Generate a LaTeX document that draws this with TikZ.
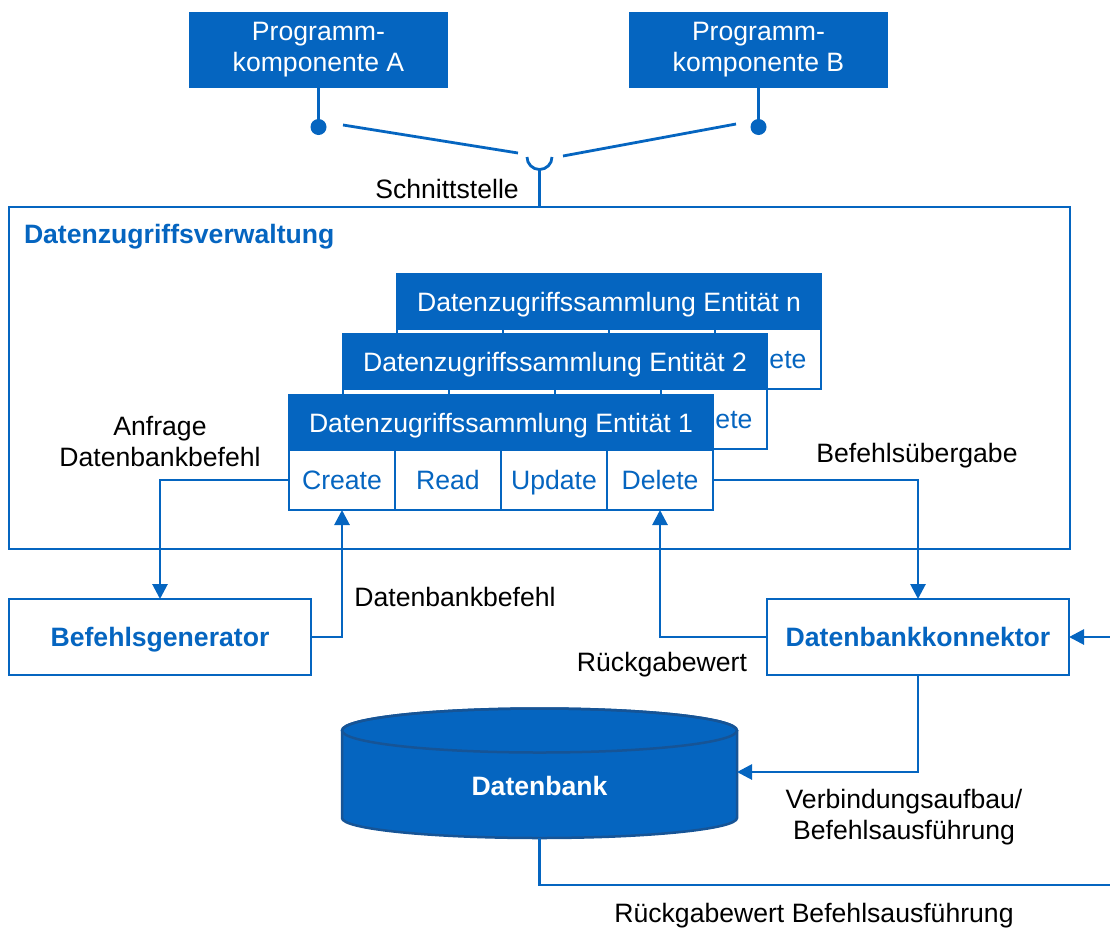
\documentclass[tikz,border=0pt]{standalone}
\usepackage{fontspec}
\setmainfont{Liberation Sans}
\usetikzlibrary{arrows.meta}
\definecolor{blu}{RGB}{5,101,192}
\definecolor{dblu}{RGB}{22,84,150}
\newcommand{\fs}{\fontsize{26.6}{31}\selectfont}
\begin{document}
\begin{tikzpicture}[x=1pt,y=-1pt,
  every node/.style={font=\fs, inner sep=0pt, outer sep=0pt},
  hdr/.style={draw=blu, fill=blu, text=white, line width=2pt, minimum width=424pt, minimum height=55pt, anchor=north west, text height=19pt, text depth=0pt},
  cell/.style={draw=blu, fill=white, text=blu, line width=2.8pt, minimum width=106pt, minimum height=60pt, anchor=north west, text height=19pt, text depth=0pt},
  bbox/.style={draw=blu, fill=white, text=blu, line width=2.8pt, font=\fs\bfseries, minimum width=302pt, minimum height=76pt, anchor=north west, text height=19pt, text depth=0pt},
  prog/.style={fill=blu, text=white, minimum width=259pt, minimum height=76pt, align=center, anchor=north west},
  dot/.style={circle, fill=blu, minimum size=16pt},
  conn/.style={draw=blu, line width=2.8pt},
  arr/.style={conn, -{Triangle[length=15pt,width=15pt]}},
  lbl/.style={text=black, align=center}
]
\useasboundingbox (0,0) rectangle (1110,932);

% program components
\node[prog] (pa) at (189,12) {Programm-\\komponente A};
\node[prog] (pb) at (629,12) {Programm-\\komponente B};
\node[dot] (dotA) at (318.5,127) {};
\node[dot] (dotB) at (758.5,127) {};
\draw[conn] (pa.south) -- (dotA.center);
\draw[conn] (pb.south) -- (dotB.center);

% main box
\node[draw=blu, line width=2.8pt, minimum width=1061pt, minimum height=342pt, anchor=north west] (dzv) at (9,207) {};
\node[text=blu, font=\fs\bfseries, anchor=west] (dzvl) at (24,237) {Datenzugriffsverwaltung};

% interface (socket)
\coordinate (la1) at (343,125);
\coordinate (la2) at (518,153);
\coordinate (lb1) at (736,124);
\coordinate (lb2) at (563,156);
\coordinate (sockL) at (527,157);
\coordinate (sockB) at (539.5,169.5);
\draw[conn] (la1) -- (la2);
\draw[conn] (lb1) -- (lb2);
\draw[conn] (sockL) arc[start angle=180, end angle=0, radius=12.5];
\draw[conn] (sockB) -- (dzv.north);
\node[lbl] (schn) at (447,189) {Schnittstelle};

% entity n
\node[hdr] (hn) at (397,274) {Datenzugriffssammlung Entität n};
\node[cell] (nC) at (hn.south west) {};
\node[cell] (nR) at (nC.north east) {};
\node[cell] (nU) at (nR.north east) {};
\node[cell] (nD) at (nU.north east) {Delete};
% entity 2
\node[hdr] (h2) at (343,334) {Datenzugriffssammlung Entität 2};
\node[cell] (tC) at (h2.south west) {};
\node[cell] (tR) at (tC.north east) {};
\node[cell] (tU) at (tR.north east) {};
\node[cell] (tD) at (tU.north east) {Delete};
% entity 1
\node[hdr] (h1) at (289,395) {Datenzugriffssammlung Entität 1};
\node[cell] (oC) at (h1.south west) {Create};
\node[cell] (oR) at (oC.north east) {Read};
\node[cell] (oU) at (oR.north east) {Update};
\node[cell] (oD) at (oU.north east) {Delete};

% lower boxes
\node[bbox] (bg) at (9,599) {Befehlsgenerator};
\node[bbox] (dk) at (767,599) {Datenbankkonnektor};

% database cylinder
\filldraw[fill=blu, draw=dblu, line width=2.5pt]
  (342,730.5) -- (342,818) arc[start angle=180, end angle=0, x radius=197.5, y radius=20]
  -- (737,730.5) arc[start angle=0, end angle=-180, x radius=197.5, y radius=22] -- cycle;
\draw[dblu, line width=2.5pt] (539.5,730.5) ellipse[x radius=197.5, y radius=22];
\node[text=white, font=\fs\bfseries] (db) at (539.5,786) {Datenbank};
\coordinate (dbR) at (737,772);
\coordinate (dbB) at (539.5,838);
\coordinate (loopR) at (1130,885);

% connectors
\draw[arr] (oC.west) -| (bg.north);
\draw[arr] (bg.east) -| (oC.south);
\draw[arr] (oD.east) -| (dk.north);
\draw[arr] (dk.west) -| (oD.south);
\draw[arr] (dk.south) |- (dbR);
\draw[arr] (dbB) |- (loopR) |- (dk.east);

% labels
\node[lbl] (l1) at (160,441) {Anfrage\\Datenbankbefehl};
\node[lbl] (l2) at (455,597) {Datenbankbefehl};
\node[lbl] (l3) at (917,456) {Befehlsübergabe};
\node[lbl] (l4) at (662,665) {Rückgabewert};
\node[lbl] (l5) at (904,817) {Verbindungsaufbau/\\Befehlsausführung};
\node[lbl] (l6) at (814,916) {Rückgabewert Befehlsausführung};
\end{tikzpicture}
\end{document}
